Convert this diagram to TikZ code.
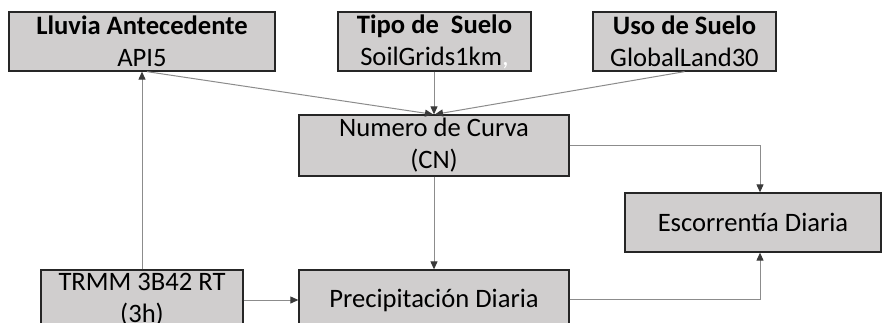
\documentclass[tikz,border=0pt]{standalone}
\usepackage{fontspec}
\setmainfont{Carlito}
\usetikzlibrary{arrows.meta}
\definecolor{boxfill}{HTML}{D0CECE}
\definecolor{boxline}{HTML}{262626}
\definecolor{conline}{HTML}{8C8C8C}
\definecolor{tipcol}{HTML}{3A3A3A}
\begin{document}
\begin{tikzpicture}[x=1pt,y=-1pt,
  box/.style={draw=boxline,fill=boxfill,line width=1.3pt,rectangle,align=center,inner sep=0pt,
    font=\fontsize{26.6}{32}\selectfont,text=black},
  conn/.style={draw=conline,line width=1pt,-{Triangle[length=8pt,width=7pt,color=tipcol]}},
  plain/.style={draw=conline,line width=1pt}]
\clip (0,0) rectangle (882,323);
\fill[white] (0,0) rectangle (882,323);
\node[box,minimum width=266pt,minimum height=59pt] (ant) at (142,41.5) {\textbf{Lluvia Antecedente}\\API5};
\node[box,minimum width=193pt,minimum height=59pt] (tipo) at (434.5,41.5) {\textbf{Tipo de~ Suelo}\\SoilGrids1km\textcolor{white}{,}};
\node[box,minimum width=183pt,minimum height=59pt] (uso) at (684.5,41.5) {\textbf{Uso de Suelo}\\GlobalLand30};
\node[box,minimum width=270pt,minimum height=61pt] (cn) at (434,145.5) {Numero de Curva\\(CN)};
\node[box,minimum width=256pt,minimum height=59pt] (esc) at (753,222.5) {Escorrent\'ia Diaria};
\node[box,minimum width=202pt,minimum height=60pt] (trmm) at (142,300) {TRMM 3B42 RT\\(3h)};
\node[box,minimum width=270pt,minimum height=60pt] (pre) at (434,300) {Precipitaci\'on Diaria};
\coordinate (c1) at (760,145.5);
\coordinate (c2) at (760,299);
\draw[conn] (trmm.north) -- (ant.south);
\draw[conn] ([xshift=5pt]ant.south) -- ([xshift=-1pt]cn.north);
\draw[conn] (tipo.south -| cn.north) -- (cn.north);
\draw[conn] (uso.south) -- ([xshift=1pt]cn.north);
\draw[conn] (cn.east) -- (c1) -- (c1 |- esc.north);
\draw[conn] (cn.south) -- (pre.north);
\draw[conn] (trmm.east) -- (pre.west);
\draw[conn] (pre.east |- c2) -- (c2) -- (c2 |- esc.south);
\end{tikzpicture}
\end{document}
